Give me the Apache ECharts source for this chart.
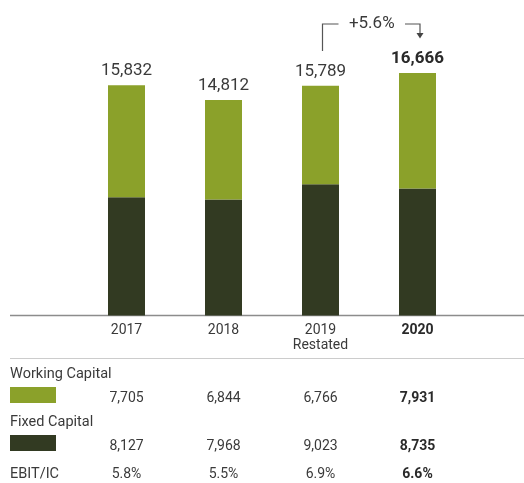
<!DOCTYPE html>
<html>
<head>
<meta charset="utf-8">
<script src="https://cdn.jsdelivr.net/npm/echarts@6/dist/echarts.min.js"></script>
<style>
  html, body { margin: 0; padding: 0; background: #fff; }
  #chart { width: 524px; height: 483px; }
</style>
</head>
<body>
<div id="chart"></div>
<script>
// data
const years = ['2017', '2018', '2019', '2020']
const yearLabels = ['2017', '2018', '2019\nRestated', '2020']
const workingCapital = [7705, 6844, 6766, 7931]
const fixedCapital = [8127, 7968, 9023, 8735]
const ebitIc = [5.8, 5.5, 6.9, 6.6]
const growthLabel = '+5.6%'

const GREEN = '#8ba12a'
const DARK = '#323a22'
const TEXT = '#3a3a3a'
const FONT = 'Roboto, "Open Sans", sans-serif'
const last = years.length - 1

const fmt = v => v.toLocaleString('en-US')

// one extra category axis per table row, pushed down with offset
function rowAxis(labels, offset) {
  return {
    type: 'category',
    gridIndex: 0,
    position: 'bottom',
    offset: offset,
    data: labels,
    axisLine: { show: false },
    axisTick: { show: false },
    axisLabel: {
      margin: 0,
      fontFamily: FONT,
      fontSize: 14,
      lineHeight: 16,
      color: TEXT,
      formatter: (v, i) => i === last ? '{b|' + v + '}' : v,
      rich: { b: { fontWeight: 'bold', fontSize: 14, fontFamily: FONT, color: '#2a2a2a' } }
    }
  }
}

const chart = echarts.init(document.getElementById('chart'))

chart.setOption({
  animation: false,
  grid: { left: 78, right: 58, top: 24.5, height: 291 },
  xAxis: [
    {
      type: 'category',
      data: yearLabels,
      axisLine: { show: false },
      axisTick: { show: false },
      axisLabel: {
        margin: 7,
        fontFamily: FONT,
        fontSize: 14,
        lineHeight: 15,
        color: TEXT,
        formatter: (v, i) => i === last ? '{b|' + v + '}' : v,
        rich: { b: { fontWeight: 'bold', fontSize: 14, fontFamily: FONT, color: '#2a2a2a' } }
      }
    },
    rowAxis(workingCapital.map(fmt), 74.5),
    rowAxis(fixedCapital.map(fmt), 122.5),
    rowAxis(ebitIc.map(v => v.toFixed(1) + '%'), 150.5)
  ],
  yAxis: {
    type: 'value',
    min: 0,
    max: 20000,
    show: false
  },
  series: [
    {
      name: 'Fixed Capital',
      type: 'bar',
      stack: 'ic',
      barWidth: 37,
      itemStyle: { color: DARK },
      data: fixedCapital
    },
    {
      name: 'Working Capital',
      type: 'bar',
      stack: 'ic',
      barWidth: 37,
      itemStyle: { color: GREEN },
      data: workingCapital.map((v, i) => ({
        value: v,
        label: i === last ? { fontWeight: 'bold', color: '#2a2a2a' } : {}
      })),
      label: {
        show: true,
        position: 'top',
        distance: 6,
        fontFamily: FONT,
        fontSize: 17,
        color: TEXT,
        formatter: p => fmt(p.value + fixedCapital[p.dataIndex])
      }
    }
  ]
})

// rules, row captions, swatches and the growth bracket
const axisY = chart.convertToPixel({ yAxisIndex: 0 }, 0)
const x19 = chart.convertToPixel({ xAxisIndex: 0 }, 2) + 2
const x20 = chart.convertToPixel({ xAxisIndex: 0 }, 3) + 2.5
const capStyle = { fontFamily: FONT, fontSize: 14.5, fill: TEXT }
const lineY = 24
chart.setOption({
  graphic: [
    { type: 'line', shape: { x1: 10, y1: axisY, x2: 524, y2: axisY }, style: { stroke: '#8c8c8c', lineWidth: 1.5 } },
    { type: 'line', shape: { x1: 10, y1: 358.5, x2: 524, y2: 358.5 }, style: { stroke: '#cccccc', lineWidth: 1.2 } },
    { type: 'text', x: 10, y: 374, style: Object.assign({ text: 'Working Capital', verticalAlign: 'middle' }, capStyle) },
    { type: 'rect', shape: { x: 10, y: 387, width: 46, height: 16 }, style: { fill: GREEN } },
    { type: 'text', x: 10, y: 422, style: Object.assign({ text: 'Fixed Capital', verticalAlign: 'middle' }, capStyle) },
    { type: 'rect', shape: { x: 10, y: 435, width: 46, height: 16 }, style: { fill: DARK } },
    { type: 'text', x: 10, y: 474, style: Object.assign({ text: 'EBIT/IC', verticalAlign: 'middle' }, capStyle) },
    { type: 'polyline', shape: { points: [[x19, 51], [x19, lineY], [x19 + 16, lineY]] }, style: { stroke: '#555', lineWidth: 1.2, fill: null } },
    { type: 'polyline', shape: { points: [[x20 - 15, lineY], [x20, lineY], [x20, 34]] }, style: { stroke: '#555', lineWidth: 1.2, fill: null } },
    { type: 'polygon', shape: { points: [[x20 - 3.5, 33], [x20 + 3.5, 33], [x20, 38.5]] }, style: { fill: '#444' } },
    { type: 'text', x: (x19 + x20) / 2 + 0.5, y: lineY, style: { text: growthLabel, fontFamily: FONT, fontSize: 17, fill: TEXT, align: 'center', verticalAlign: 'middle' } }
  ]
})
</script>
</body>
</html>
